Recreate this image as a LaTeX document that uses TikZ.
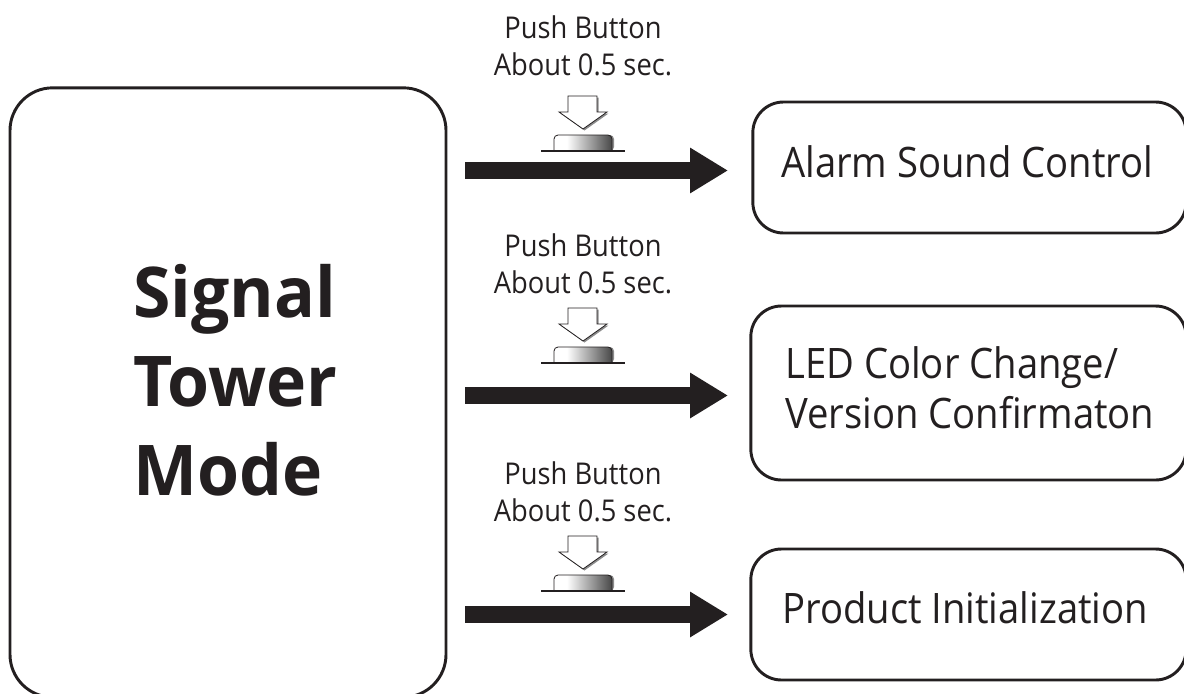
\documentclass[tikz,border=0pt]{standalone}
\usepackage{fontspec}
\usepackage{xcolor}
\usepackage{tikz}
\usetikzlibrary{arrows.meta}
\setmainfont[FakeStretch=0.91, BoldFeatures={FakeStretch=0.97}]{Open Sans}
\definecolor{inkblack}{HTML}{231F20}
\pgfdeclarehorizontalshading{buttonshade}{100bp}{color(0bp)=(white); color(36bp)=(white); color(55bp)=(black!35); color(75bp)=(black!72); color(100bp)=(black!72)}
\tikzset{
  modebox/.style={draw=inkblack, line width=2.2pt, rounded corners=32pt, outer sep=0pt, inner sep=0pt},
  resultbox/.style={draw=inkblack, line width=2.2pt, rounded corners=23pt, outer sep=0pt, inner sep=0pt},
  modetext/.style={color=inkblack, inner sep=0pt, align=left, anchor=base west, font=\bfseries\fontsize{52.5}{66.4}\selectfont},
  resulttext/.style={color=inkblack, inner sep=0pt, align=left, anchor=base west, font=\fontsize{31.5}{37.5}\selectfont},
  pushtext/.style={color=inkblack, inner sep=0pt, align=center, anchor=base, font=\fontsize{22.5}{27.75}\selectfont},
  bigarrow/.style={color=inkblack, line width=12.75pt, -{Triangle[length=28.5pt, width=32.25pt]}},
  baseline rule/.style={color=inkblack, line width=0.8pt},
  shadowshape/.style={fill=black!45, draw=none},
}
\begin{document}
\begin{tikzpicture}[x=0.75pt, y=-0.75pt]
      \useasboundingbox (0,0) rectangle (1184,693);
      \clip (0,0) rectangle (1184,693);

      \node[modebox, minimum width=327pt, minimum height=457pt] (mode) at (228,392.5) {};
      \node[modetext] (modelabel) at (133,495) {Signal\\Tower\\Mode};

      \node[resultbox, minimum width=325pt, minimum height=98.25pt] (alarm) at (969.5,167.5) {};
      \node[resulttext] (alarmlabel) at (781,177) {Alarm Sound Control};
      \node[resultbox, minimum width=326.5pt, minimum height=130.5pt] (led) at (968.5,393) {};
      \node[resulttext] (ledlabel) at (785,428) {LED Color Change/\\Version Confirmaton};
      \node[resultbox, minimum width=326.5pt, minimum height=98.25pt] (product) at (968.5,614.5) {};
      \node[resulttext] (productlabel) at (782,623) {Product Initialization};

      % index / text baseline / top of the press icon / arrow height
      \foreach \idx/\ytext/\ytop/\yarrow in {1/75/96/170.5, 2/293/308/395.5, 3/521/536/614.5} {
        \node[pushtext] (push\idx) at (583,\ytext) {Push Button\\About 0.5 sec.};

        \begin{scope}[shift={(0,\ytop)}]
          \path[shadowshape] (569.5,1.5) -- (598.5,1.5) -- (598.5,17.5) -- (608.5,17.5) -- (584.5,34.5) -- (560.5,17.5) -- (569.5,17.5) -- cycle;
          \draw[draw=inkblack, fill=white, line width=0.6pt] (568,0) -- (597,0) -- (597,16) -- (607,16) -- (583,33) -- (559,16) -- (568,16) -- cycle;
          \path[shadowshape, rounded corners=3pt] (556,55) -- (556,39) -- (614,39) -- (614,55) -- cycle;
          \draw[shading=buttonshade, draw=inkblack, line width=0.6pt, rounded corners=3pt] (554,55) -- (554,39) -- (612,39) -- (612,55);
          \draw[baseline rule] (541,55) -- (625,55);
        \end{scope}

        \coordinate (start\idx) at (465,\yarrow);
        \coordinate (end\idx) at (728,\yarrow);
        \draw[bigarrow] (start\idx) -- (end\idx);
      }
    \end{tikzpicture}
\end{document}
